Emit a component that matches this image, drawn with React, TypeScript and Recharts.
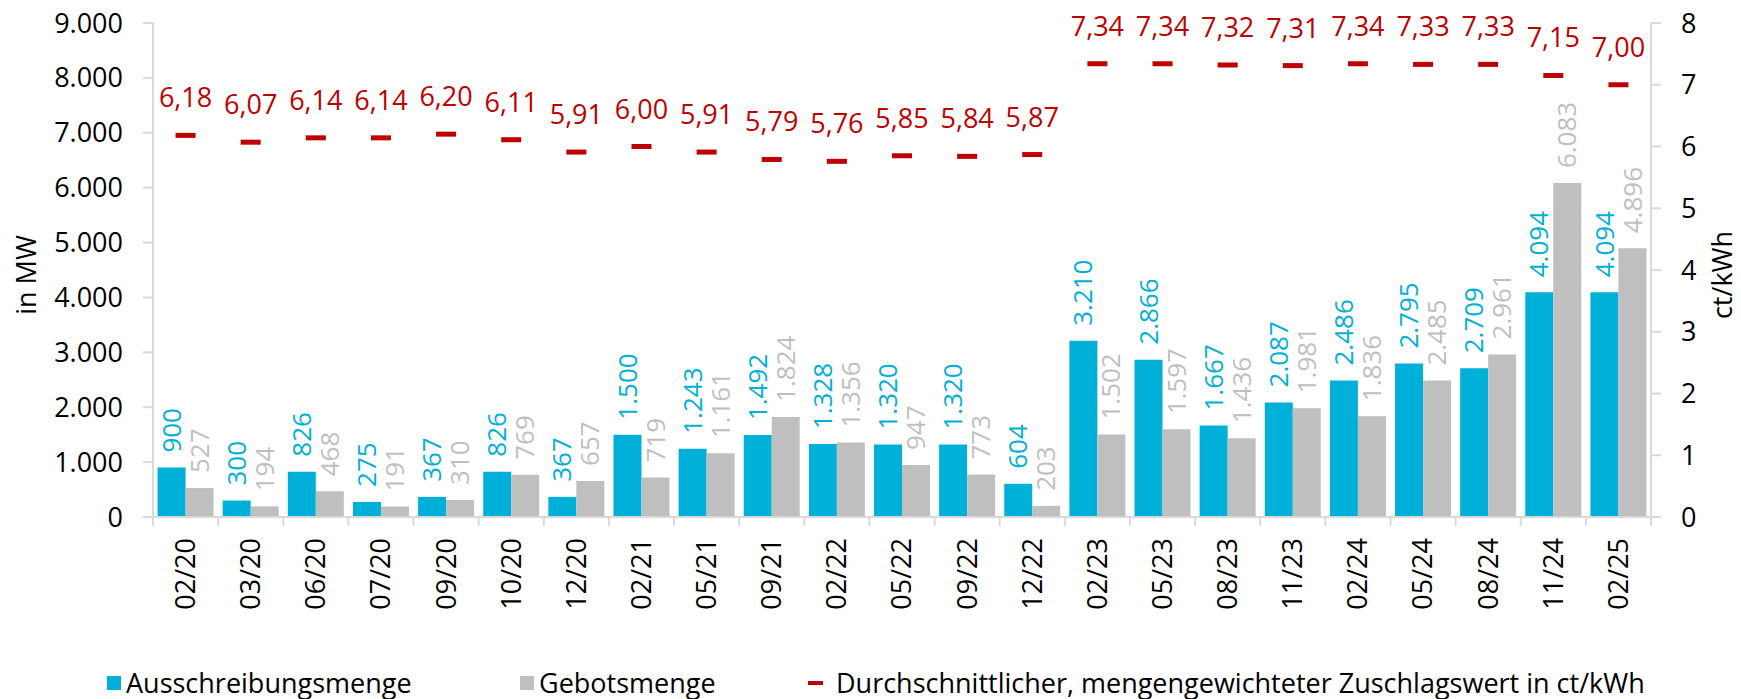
import React from "react";
import {
  ComposedChart,
  Bar,
  Line,
  XAxis,
  YAxis,
  Legend,
  LabelList,
  Label,
} from "recharts";

const categories = [
  "02/20", "03/20", "06/20", "07/20", "09/20", "10/20", "12/20", "02/21",
  "05/21", "09/21", "02/22", "05/22", "09/22", "12/22", "02/23", "05/23",
  "08/23", "11/23", "02/24", "05/24", "08/24", "11/24", "02/25",
];
const ausschreibungsmenge = [
  900, 300, 826, 275, 367, 826, 367, 1500, 1243, 1492, 1328, 1320, 1320, 604,
  3210, 2866, 1667, 2087, 2486, 2795, 2709, 4094, 4094,
];
const gebotsmenge = [
  527, 194, 468, 191, 310, 769, 657, 719, 1161, 1824, 1356, 947, 773, 203,
  1502, 1597, 1436, 1981, 1836, 2485, 2961, 6083, 4896,
];
const zuschlagswert = [
  6.18, 6.07, 6.14, 6.14, 6.2, 6.11, 5.91, 6.0, 5.91, 5.79, 5.76, 5.85, 5.84,
  5.87, 7.34, 7.34, 7.32, 7.31, 7.34, 7.33, 7.33, 7.15, 7.0,
];
const mwTicks = [0, 1000, 2000, 3000, 4000, 5000, 6000, 7000, 8000, 9000];
const ctTicks = [0, 1, 2, 3, 4, 5, 6, 7, 8];

const data = categories.map((cat, i) => ({
  cat,
  aus: ausschreibungsmenge[i],
  geb: gebotsmenge[i],
  zus: zuschlagswert[i],
}));

const W = 1741;
const H = 699;
const LEFT_W = 153;
const RIGHT_W = 90;
const TOP = 23;
const PLOT_BOTTOM = 517;
const BAND = (W - LEFT_W - RIGHT_W) / categories.length;

const FONT = "'Open Sans', sans-serif";
const BLUE = "#00B0D8";
const GRAY = "#BFBFBF";
const RED = "#C00000";
const AXIS = "#D9D9D9";

// 1234 -> "1.234"
const fmtMW = (v: number) => String(v).replace(/\B(?=(\d{3})+(?!\d))/g, ".");
const fmtCt = (v: number) => v.toFixed(2).replace(".", ",");

const XTick = (props: any) => {
  const { x, payload, index } = props;
  const last = index === categories.length - 1;
  return (
    <g>
      <line x1={x - BAND / 2} x2={x - BAND / 2} y1={PLOT_BOTTOM} y2={PLOT_BOTTOM + 9} stroke={AXIS} strokeWidth={2} />
      {last && (
        <line x1={x + BAND / 2} x2={x + BAND / 2} y1={PLOT_BOTTOM} y2={PLOT_BOTTOM + 9} stroke={AXIS} strokeWidth={2} />
      )}
      <text
        x={x}
        y={PLOT_BOTTOM + 21}
        transform={`rotate(-90 ${x} ${PLOT_BOTTOM + 21})`}
        textAnchor="end"
        dy="0.35em"
        fontFamily={FONT}
        fontSize={27}
        fill="#000"
      >
        {payload.value}
      </text>
    </g>
  );
};

const barLabel = (color: string) => (props: any) => {
  const { x, y, width, value } = props;
  const cx = x + width / 2;
  const ty = y - 15;
  return (
    <text
      x={cx}
      y={ty}
      transform={`rotate(-90 ${cx} ${ty})`}
      textAnchor="start"
      dy="0.35em"
      fontFamily={FONT}
      fontSize={26}
      fill={color}
    >
      {fmtMW(value)}
    </text>
  );
};

const Dash = (props: any) => {
  const { cx, cy } = props;
  if (cx == null || cy == null) return null;
  return <rect x={cx - 10} y={cy - 2.5} width={20} height={5} fill={RED} />;
};

const LegendBox = () => {
  const text: React.CSSProperties = {
    position: "absolute",
    top: 0,
    lineHeight: "40px",
    fontSize: 27,
    fontFamily: FONT,
    color: "#000",
    whiteSpace: "nowrap",
  };
  return (
    <div style={{ position: "relative", width: W, height: 40 }}>
      <div style={{ position: "absolute", left: 107, top: 13, width: 14, height: 14, background: BLUE }} />
      <div style={{ ...text, left: 126 }}>Ausschreibungsmenge</div>
      <div style={{ position: "absolute", left: 520, top: 13, width: 14, height: 14, background: GRAY }} />
      <div style={{ ...text, left: 539 }}>Gebotsmenge</div>
      <div style={{ position: "absolute", left: 808, top: 18, width: 15, height: 4, background: RED }} />
      <div style={{ ...text, left: 836 }}>Durchschnittlicher, mengengewichteter Zuschlagswert in ct/kWh</div>
    </div>
  );
};

export default function App() {
  return (
    <div style={{ position: "absolute", left: 0, top: 0, width: W, height: H, background: "#fff" }}>
      <ComposedChart
        width={W}
        height={H}
        data={data}
        margin={{ top: TOP, right: 0, left: 0, bottom: 32 }}
        barCategoryGap="7%"
        barGap={0}
      >
        <XAxis
          dataKey="cat"
          height={110}
          interval={0}
          tickLine={false}
          axisLine={{ stroke: AXIS, strokeWidth: 2 }}
          tick={<XTick />}
        />
        <YAxis
          yAxisId="left"
          width={LEFT_W}
          domain={[0, 9000]}
          ticks={mwTicks}
          tickFormatter={fmtMW}
          tickSize={10}
          tickMargin={20}
          axisLine={{ stroke: AXIS, strokeWidth: 2 }}
          tickLine={{ stroke: AXIS, strokeWidth: 2 }}
          tick={{ fill: "#000", fontSize: 27, fontFamily: FONT }}
        >
          <Label
            content={() => (
              <text
                x={27}
                y={275}
                transform="rotate(-90 27 275)"
                textAnchor="middle"
                dy="0.35em"
                fontFamily={FONT}
                fontSize={27}
                fill="#000"
              >
                in MW
              </text>
            )}
          />
        </YAxis>
        <YAxis
          yAxisId="right"
          orientation="right"
          width={RIGHT_W}
          domain={[0, 8]}
          ticks={ctTicks}
          tickSize={10}
          tickMargin={20}
          axisLine={{ stroke: AXIS, strokeWidth: 2 }}
          tickLine={{ stroke: AXIS, strokeWidth: 2 }}
          tick={{ fill: "#000", fontSize: 27, fontFamily: FONT }}
        >
          <Label
            content={() => (
              <text
                x={1723}
                y={275}
                transform="rotate(-90 1723 275)"
                textAnchor="middle"
                dy="0.35em"
                fontFamily={FONT}
                fontSize={27}
                fill="#000"
              >
                ct/kWh
              </text>
            )}
          />
        </YAxis>
        <Bar yAxisId="left" dataKey="aus" name="Ausschreibungsmenge" fill={BLUE} isAnimationActive={false}>
          <LabelList dataKey="aus" content={barLabel(BLUE)} />
        </Bar>
        <Bar yAxisId="left" dataKey="geb" name="Gebotsmenge" fill={GRAY} isAnimationActive={false}>
          <LabelList dataKey="geb" content={barLabel(GRAY)} />
        </Bar>
        <Line
          yAxisId="right"
          dataKey="zus"
          name="Durchschnittlicher, mengengewichteter Zuschlagswert in ct/kWh"
          stroke="none"
          dot={<Dash />}
          activeDot={false}
          isAnimationActive={false}
        >
          <LabelList
            dataKey="zus"
            position="top"
            offset={28}
            formatter={(v: any) => fmtCt(Number(v))}
            fill={RED}
            fontSize={27}
            fontFamily={FONT}
          />
        </Line>
        <Legend
          verticalAlign="bottom"
          content={<LegendBox />}
          wrapperStyle={{ top: 663, left: 0, height: 40, width: W }}
        />
      </ComposedChart>
    </div>
  );
}
